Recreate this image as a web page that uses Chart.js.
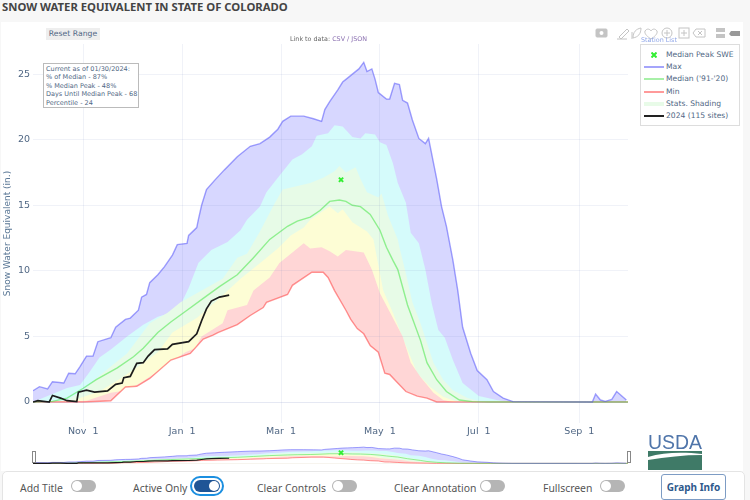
<!DOCTYPE html>
<html>
<head>
<meta charset="utf-8">
<title>Snow Water Equivalent in State of Colorado</title>
<script src="https://cdn.jsdelivr.net/npm/chart.js@4/dist/chart.umd.min.js"></script>
<style>
  html, body { margin: 0; padding: 0; width: 750px; height: 500px; overflow: hidden; background: #f7f7f7; }
  body { position: relative; font-family: "DejaVu Sans", sans-serif; color: #506784; }
  .abs { position: absolute; white-space: nowrap; }
  #title { left: 2px; top: -1px; font: bold 11.3px/16px "Noto Sans", sans-serif; color: #444; }
  #panel { left: 1px; top: 22px; width: 742px; height: 449px; background: #fff; }
  #main { position: absolute; left: 0; top: 0; }
  #mini { position: absolute; left: 0; top: 440px; }
  #reset { left: 46px; top: 28px; width: 54px; height: 12px; background: #eee; font-size: 7.7px; line-height: 12px; text-align: center; }
  #link { left: 290px; top: 35px; font-size: 6.4px; line-height: 9px; color: #666; }
  #link span { color: #8a6fb0; }
  #note { left: 43px; top: 63px; width: 92px; height: 42px; padding: 1px 0 0 2px; background: #fff; border: 1px solid #bbb; font-size: 6.5px; line-height: 8.4px; }
  #stations { left: 641px; top: 36px; font-size: 6.4px; line-height: 8px; color: #8fa6e8; }
  #legend { left: 640px; top: 44px; width: 98px; height: 80px; background: #fff; border: 1px solid #ddd; }
  .row { position: absolute; left: 0; height: 12px; line-height: 12px; font-size: 7.6px; }
  .row b { position: absolute; left: 3px; top: 5px; width: 20px; height: 2px; }
  .row i { position: absolute; left: 25px; font-style: normal; }
  .handle { width: 2px; height: 10px; top: 451px; background: #fff; border: 1px solid #888; }
  #controls { left: 2px; top: 471px; width: 741px; height: 40px; background: #fff; border: 1px solid #e4e4e4; border-radius: 5px; }
  .lab { top: 481px; font: 10.4px/14px "Noto Sans", sans-serif; color: #555; }
  .tog { top: 480px; width: 25px; height: 12px; border-radius: 7px; background: #b5b5b5; }
  .tog::after { content: ""; position: absolute; left: 1px; top: 1px; width: 10px; height: 10px; border-radius: 50%; background: #fff; }
  .tog.on { background: #1f5596; outline: 2px solid #1c8fe0; outline-offset: 2px; width: 26px; }
  .tog.on::after { left: 15px; }
  #info { left: 661px; top: 474px; width: 63px; height: 24px; border: 1px solid #7d9cc4; border-radius: 3px; background: #fff; font: bold 10px/24px "Noto Sans", sans-serif; color: #2f5a8c; text-align: center; }
</style>
</head>
<body>
<div class="abs" id="title">SNOW WATER EQUIVALENT IN STATE OF COLORADO</div>
<div class="abs" id="panel"></div>
<canvas id="main" width="750" height="440"></canvas>
<canvas id="mini" width="750" height="30"></canvas>
<div class="abs" id="reset">Reset Range</div>
<div class="abs" id="link">Link to data: <span>CSV / JSON</span></div>
<div class="abs" id="note"></div>
<svg class="abs" style="left:592px;top:24px" width="152" height="18" fill="#c4c4c4" stroke="#c4c4c4">
  <rect x="4" y="5" width="11" height="8" rx="1"/><circle cx="9.5" cy="9" r="2" fill="#fff" stroke="none"/>
  <path d="M27 13l8-8 2 2-8 8zM25 15h10" fill="none"/>
  <path d="M41 14c0-6 3-9 8-10 0 6-3 9-8 10zM40 8v7" fill="none"/>
  <path d="M53 7c2-3 5-2 6 0 1-2 4-3 6 0 1 3-3 6-6 8-3-2-7-5-6-8z" fill="none"/>
  <circle cx="75" cy="9" r="5" fill="none"/><path d="M72 9h6M75 6v6" fill="none"/>
  <rect x="87" y="4" width="10" height="10" fill="none"/><path d="M89 9h6M92 6v6" fill="none"/>
  <path d="M104 5h9v8h-9l-3-4zM106 7l4 4M110 7l-4 4" fill="none"/>
  <rect x="124" y="4" width="9" height="4" stroke="none"/><rect x="124" y="10" width="9" height="4" stroke="none"/>
  <path d="M139 7h9v5h-9l-2-2z" fill="#999" stroke="none"/>
</svg>
<div class="abs" id="stations">Station List</div>
<div class="abs" id="legend"></div>
<div class="abs handle" style="left:32px"></div>
<div class="abs handle" style="left:627px"></div>
<svg class="abs" style="left:646px;top:430px" width="60" height="42">
  <text x="29" y="19" text-anchor="middle" font-family="Liberation Sans" font-size="21" fill="#4f75aa" textLength="54" lengthAdjust="spacingAndGlyphs">USDA</text>
  <rect x="2" y="21" width="54" height="19" fill="#3f7a67"/>
  <path d="M2 27c16-5 36-5 54-3v1c-18 0-36 2-54 5z" fill="#fff"/>
</svg>
<div class="abs" id="controls"></div>
<div class="abs lab" style="left:20px">Add Title</div><div class="abs tog" style="left:71px"></div>
<div class="abs lab" style="left:133px">Active Only</div><div class="abs tog on" style="left:194px"></div>
<div class="abs lab" style="left:257px">Clear Controls</div><div class="abs tog" style="left:332px"></div>
<div class="abs lab" style="left:394px">Clear Annotation</div><div class="abs tog" style="left:480px"></div>
<div class="abs lab" style="left:543px">Fullscreen</div><div class="abs tog" style="left:600px"></div>
<div class="abs" id="info">Graph Info</div>

<script>
// x values are days since Oct 1
const tickDays = [31, 92, 153, 214, 275, 337];
const tickLabels = ['Nov  1', 'Jan  1', 'Mar  1', 'May  1', 'Jul  1', 'Sep  1'];
const yTicks = [0, 5, 10, 15, 20, 25];

const maxDays = [0, 4, 9, 12, 19, 22, 26, 29, 33, 37, 40, 48, 51, 57, 60, 65, 67, 70, 72, 77, 81, 86, 89, 95, 96, 101, 102, 104, 107, 112, 118, 126, 134, 140, 146, 151, 154, 159, 167, 173, 178, 180, 183, 188, 191, 194, 197, 201, 204, 206, 209, 211, 213, 218, 220, 223, 226, 228, 231, 234, 238, 242, 244, 249, 252, 255, 259, 262, 265, 270, 274, 280, 284, 290, 296, 345, 347, 350, 353, 357, 360, 366];
const maxValues = [0.86, 1.17, 1.0, 1.55, 1.45, 2.19, 2.15, 2.7, 3.5, 3.5, 4.6, 4.9, 5.7, 6.3, 6.4, 7.0, 8.0, 8.2, 9.1, 9.7, 10.3, 11.2, 12, 12.1, 12.7, 13.3, 13.9, 15, 16.2, 16.9, 17.7, 18.7, 19.5, 19.7, 20.2, 20.8, 21.4, 21.8, 21.8, 21.6, 21.4, 22.3, 22.9, 23.8, 24.4, 24.7, 25, 25.4, 25.9, 25.2, 25.4, 24.6, 23.6, 23.1, 23.1, 24.3, 24.2, 23, 22.8, 21.5, 20.1, 19.7, 20.1, 17, 14.9, 13.4, 10.8, 8.5, 5.7, 3.7, 2.4, 1.7, 0.8, 0.3, 0.03, 0, 0.6, 0.15, 0.05, 0.2, 0.8, 0.15];

const cyanDays = [0, 6, 21, 29, 35, 41, 48, 58, 68, 77, 85, 91, 96, 102, 110, 120, 128, 132, 140, 144, 151, 160, 166, 172, 175, 182, 186, 191, 194, 197, 202, 205, 211, 214, 218, 222, 225, 230, 233, 238, 242, 246, 250, 254, 259, 265, 275, 286, 294];
const cyanValues = [0, 0.3, 1.07, 1.3, 2.3, 3.4, 4, 5, 5.9, 6.5, 6.8, 7.4, 8.7, 10.6, 11.6, 12.2, 13.1, 13.9, 14.9, 16, 17.1, 18.5, 18.9, 19.5, 20.3, 20.5, 21.1, 21, 20.6, 20.2, 20.1, 20.5, 20.4, 19.8, 19.6, 18.2, 16.7, 15.2, 12.9, 12.1, 10.1, 7.5, 5.5, 4.9, 3.2, 1.45, 0.45, 0.15, 0];

const mintDays = [0, 12, 21, 31, 39, 48, 58, 64, 72, 83, 91, 101, 117, 126, 132, 140, 148, 154, 171, 179, 186, 189, 193, 199, 202, 206, 213, 215, 219, 225, 226, 230, 234, 239, 243, 247, 253, 259, 268, 276];
const mintValues = [0, 0, 0.15, 0.86, 1.8, 2.7, 3.7, 4.7, 6, 6.8, 7.6, 8.3, 9.4, 11, 11.3, 13, 14.9, 16.2, 16.7, 17.1, 17.6, 18, 17.5, 17.9, 17, 16, 15.6, 15.9, 14.2, 12.4, 11.8, 9.8, 7.6, 6, 4.5, 3, 1.7, 0.9, 0.3, 0.03];

const yellowDays = [0, 25, 29, 41, 54, 66, 77, 86, 101, 114, 128, 142, 151, 159, 167, 171, 183, 188, 191, 197, 206, 210, 214, 216, 222, 228, 233, 237, 245, 253, 262];
const yellowValues = [0, 0.1, 0.3, 0.8, 1.8, 2.8, 3.8, 5.3, 6.4, 7.8, 9.4, 10.8, 11.7, 12.7, 13.3, 13.9, 14.9, 14.4, 14.7, 13.7, 13, 12.4, 9.8, 8.5, 6.8, 4.9, 3.4, 2.2, 1.15, 0.4, 0];

const redDays = [0, 27, 33, 48, 58, 66, 78, 85, 94, 100, 104, 117, 120, 132, 136, 146, 152, 160, 167, 171, 178, 183, 188, 193, 204, 209, 214, 222, 228, 233, 239, 247, 253, 259];
const redValues = [0, 0.05, 0.1, 0.7, 0.9, 1.45, 2.4, 3, 3.8, 4.1, 5, 6, 7, 7.4, 8.5, 9.5, 10.6, 11.4, 12.1, 11.7, 11.8, 11.5, 11.1, 11.6, 11.4, 10.1, 8.3, 6.4, 5, 3, 1.9, 0.7, 0.15, 0];

const minDays = [0, 31, 48, 57, 64, 72, 85, 97, 105, 111, 114, 126, 134, 142, 144, 157, 160, 172, 179, 182, 186, 193, 196, 200, 204, 208, 213, 217, 220, 225, 230, 237, 243, 249, 367];
const minValues = [0, 0, 0.1, 1.15, 1.2, 1.8, 3.2, 3.7, 4.8, 5.1, 5.3, 5.9, 6.6, 7.2, 7.6, 8.2, 8.9, 9.9, 9.9, 9.5, 8.5, 7, 6.3, 5.6, 5.2, 4.3, 3.8, 2.2, 2.1, 1.45, 0.8, 0.45, 0.3, 0, 0];

const medianDays = [0, 12, 21, 31, 39, 52, 62, 68, 77, 85, 95, 105, 115, 126, 136, 146, 157, 163, 171, 177, 183, 189, 193, 197, 202, 208, 214, 218, 222, 225, 231, 239, 243, 249, 255, 263, 271, 282, 367];
const medianValues = [0, 0.05, 0.3, 1.05, 1.7, 2.6, 3.45, 4.1, 5.3, 6.1, 7, 7.9, 8.8, 9.7, 11, 12.4, 13.4, 13.8, 14.1, 14.6, 15.3, 15.4, 15.3, 15, 14.9, 14.3, 13.1, 11.8, 10.8, 10.1, 7.4, 4.7, 3, 1.7, 0.8, 0.15, 0.03, 0, 0];

const currentDays = [0, 3, 10, 12, 17, 21, 27, 28, 33, 38, 46, 51, 55, 56, 60, 64, 68, 71, 75, 83, 86, 96, 101, 104, 107, 110, 115, 121];
const currentValues = [0, 0.1, 0, 0.5, 0.3, 0.1, 0.03, 0.75, 0.9, 0.75, 0.85, 1.35, 1.45, 1.85, 1.95, 2.95, 3, 3.5, 4, 4.05, 4.4, 4.6, 5.2, 6.2, 7.1, 7.7, 8, 8.15];

const peakDay = [190];
const peakValue = [16.95];

const noteLines = ['Current as of 01/30/2024:', '% of Median - 87%', '% Median Peak - 48%', 'Days Until Median Peak - 68', 'Percentile - 24'];
const legendLabels = ['Median Peak SWE', 'Max', "Median ('91-'20)", 'Min', 'Stats. Shading', '2024 (115 sites)'];
const legendColors = ['#33ee33', '#a5a5fb', '#a8f0a8', '#ff9a9a', '#e8fbe8', '#222'];

function points(days, values) {
    return days.map(function(d, i) { return { x: d, y: values[i] }; });
}

// bands are painted back to front, each one filled down to zero
function band(days, values, color) {
    return { data: points(days, values), backgroundColor: color, borderWidth: 0, pointRadius: 0, fill: 'origin', tension: 0 };
}

function line(days, values, color, width) {
    return { data: points(days, values), borderColor: color, borderWidth: width, pointRadius: 0, fill: false, tension: 0 };
}

function buildDatasets(small) {
    const lw = small ? 1 : 1.4;
    const sets = [
        band(maxDays, maxValues, '#d7d7ff'),
        band(cyanDays, cyanValues, '#d5fbfb'),
        band(mintDays, mintValues, '#e7fbe7'),
        band(yellowDays, yellowValues, '#fdfdd5'),
        band(redDays, redValues, '#ffd6d6'),
        band(minDays, minValues, '#ffffff'),
        line(minDays, minValues, 'rgba(255, 60, 60, 0.55)', lw),
        line(medianDays, medianValues, 'rgba(70, 230, 70, 0.55)', lw),
        line(maxDays, maxValues, 'rgba(70, 70, 250, 0.5)', lw),
        line(currentDays, currentValues, '#1c1c1c', small ? 1.2 : 1.7),
        {
            data: points(peakDay, peakValue),
            showLine: false,
            pointStyle: 'crossRot',
            pointRadius: 3,
            pointBorderWidth: 2,
            pointBorderColor: '#33ee33'
        }
    ];
    // Chart.js paints the first dataset last
    return sets.reverse();
}

const tickFont = { family: 'DejaVu Sans', size: 9.5 };

new Chart(document.getElementById('main').getContext('2d'), {
    type: 'line',
    data: { datasets: buildDatasets(false) },
    options: {
        responsive: false,
        animation: false,
        layout: { padding: { top: 44, right: 122, bottom: 0, left: 0 } },
        plugins: { legend: { display: false }, tooltip: { enabled: false } },
        scales: {
            x: {
                type: 'linear',
                min: 0,
                max: 367,
                grid: { color: 'rgba(110, 125, 190, 0.1)', drawTicks: false, z: 1 },
                border: { display: false },
                afterBuildTicks: function(axis) {
                    axis.ticks = tickDays.map(function(d) { return { value: d }; });
                },
                afterFit: function(axis) { axis.height = 17; },
                ticks: {
                    padding: 3,
                    maxRotation: 0,
                    color: '#506784',
                    font: tickFont,
                    callback: function(value) { return tickLabels[tickDays.indexOf(value)]; }
                }
            },
            y: {
                min: -1.6,
                max: 27.3,
                grid: {
                    color: function(c) { return c.tick.value === 0 ? 'rgba(110, 125, 190, 0.18)' : 'rgba(110, 125, 190, 0.1)'; },
                    drawTicks: false,
                    z: 1
                },
                border: { display: false },
                afterBuildTicks: function(axis) {
                    axis.ticks = yTicks.map(function(v) { return { value: v }; });
                },
                afterFit: function(axis) { axis.width = 33; },
                title: {
                    display: true,
                    text: 'Snow Water Equivalent (in.)',
                    color: '#5b7896',
                    font: { family: 'DejaVu Sans', size: 9 },
                    padding: { top: 2, bottom: 0 }
                },
                ticks: { padding: 3, color: '#506784', font: tickFont }
            }
        }
    }
});

// range slider strip under the main chart
new Chart(document.getElementById('mini').getContext('2d'), {
    type: 'line',
    data: { datasets: buildDatasets(true) },
    options: {
        responsive: false,
        animation: false,
        layout: { padding: { top: 6, right: 122, bottom: 3, left: 33 } },
        plugins: { legend: { display: false }, tooltip: { enabled: false } },
        scales: {
            x: { type: 'linear', min: 0, max: 367, display: false },
            y: { min: -1, max: 27.7, display: false }
        }
    }
});

document.getElementById('note').innerHTML = noteLines.join('<br>');

const legendBox = document.getElementById('legend');
legendLabels.forEach(function(label, i) {
    const row = document.createElement('div');
    row.className = 'row';
    row.style.top = (4 + i * 12.2) + 'px';
    row.style.width = '98px';
    let swatch = '<b style="background:' + legendColors[i] + '"></b>';
    if (i === 0) {
        swatch = '<svg style="position:absolute;left:10px;top:3px" width="6" height="6"><path d="M0.5 0.5L5.5 5.5M5.5 0.5L0.5 5.5" stroke="' + legendColors[i] + '" stroke-width="2"/></svg>';
    }
    if (i === 4) {
        swatch = '<b style="height:4px;top:4px;background:' + legendColors[i] + '"></b>';
    }
    row.innerHTML = swatch + '<i>' + label + '</i>';
    legendBox.appendChild(row);
});
</script>
</body>
</html>
